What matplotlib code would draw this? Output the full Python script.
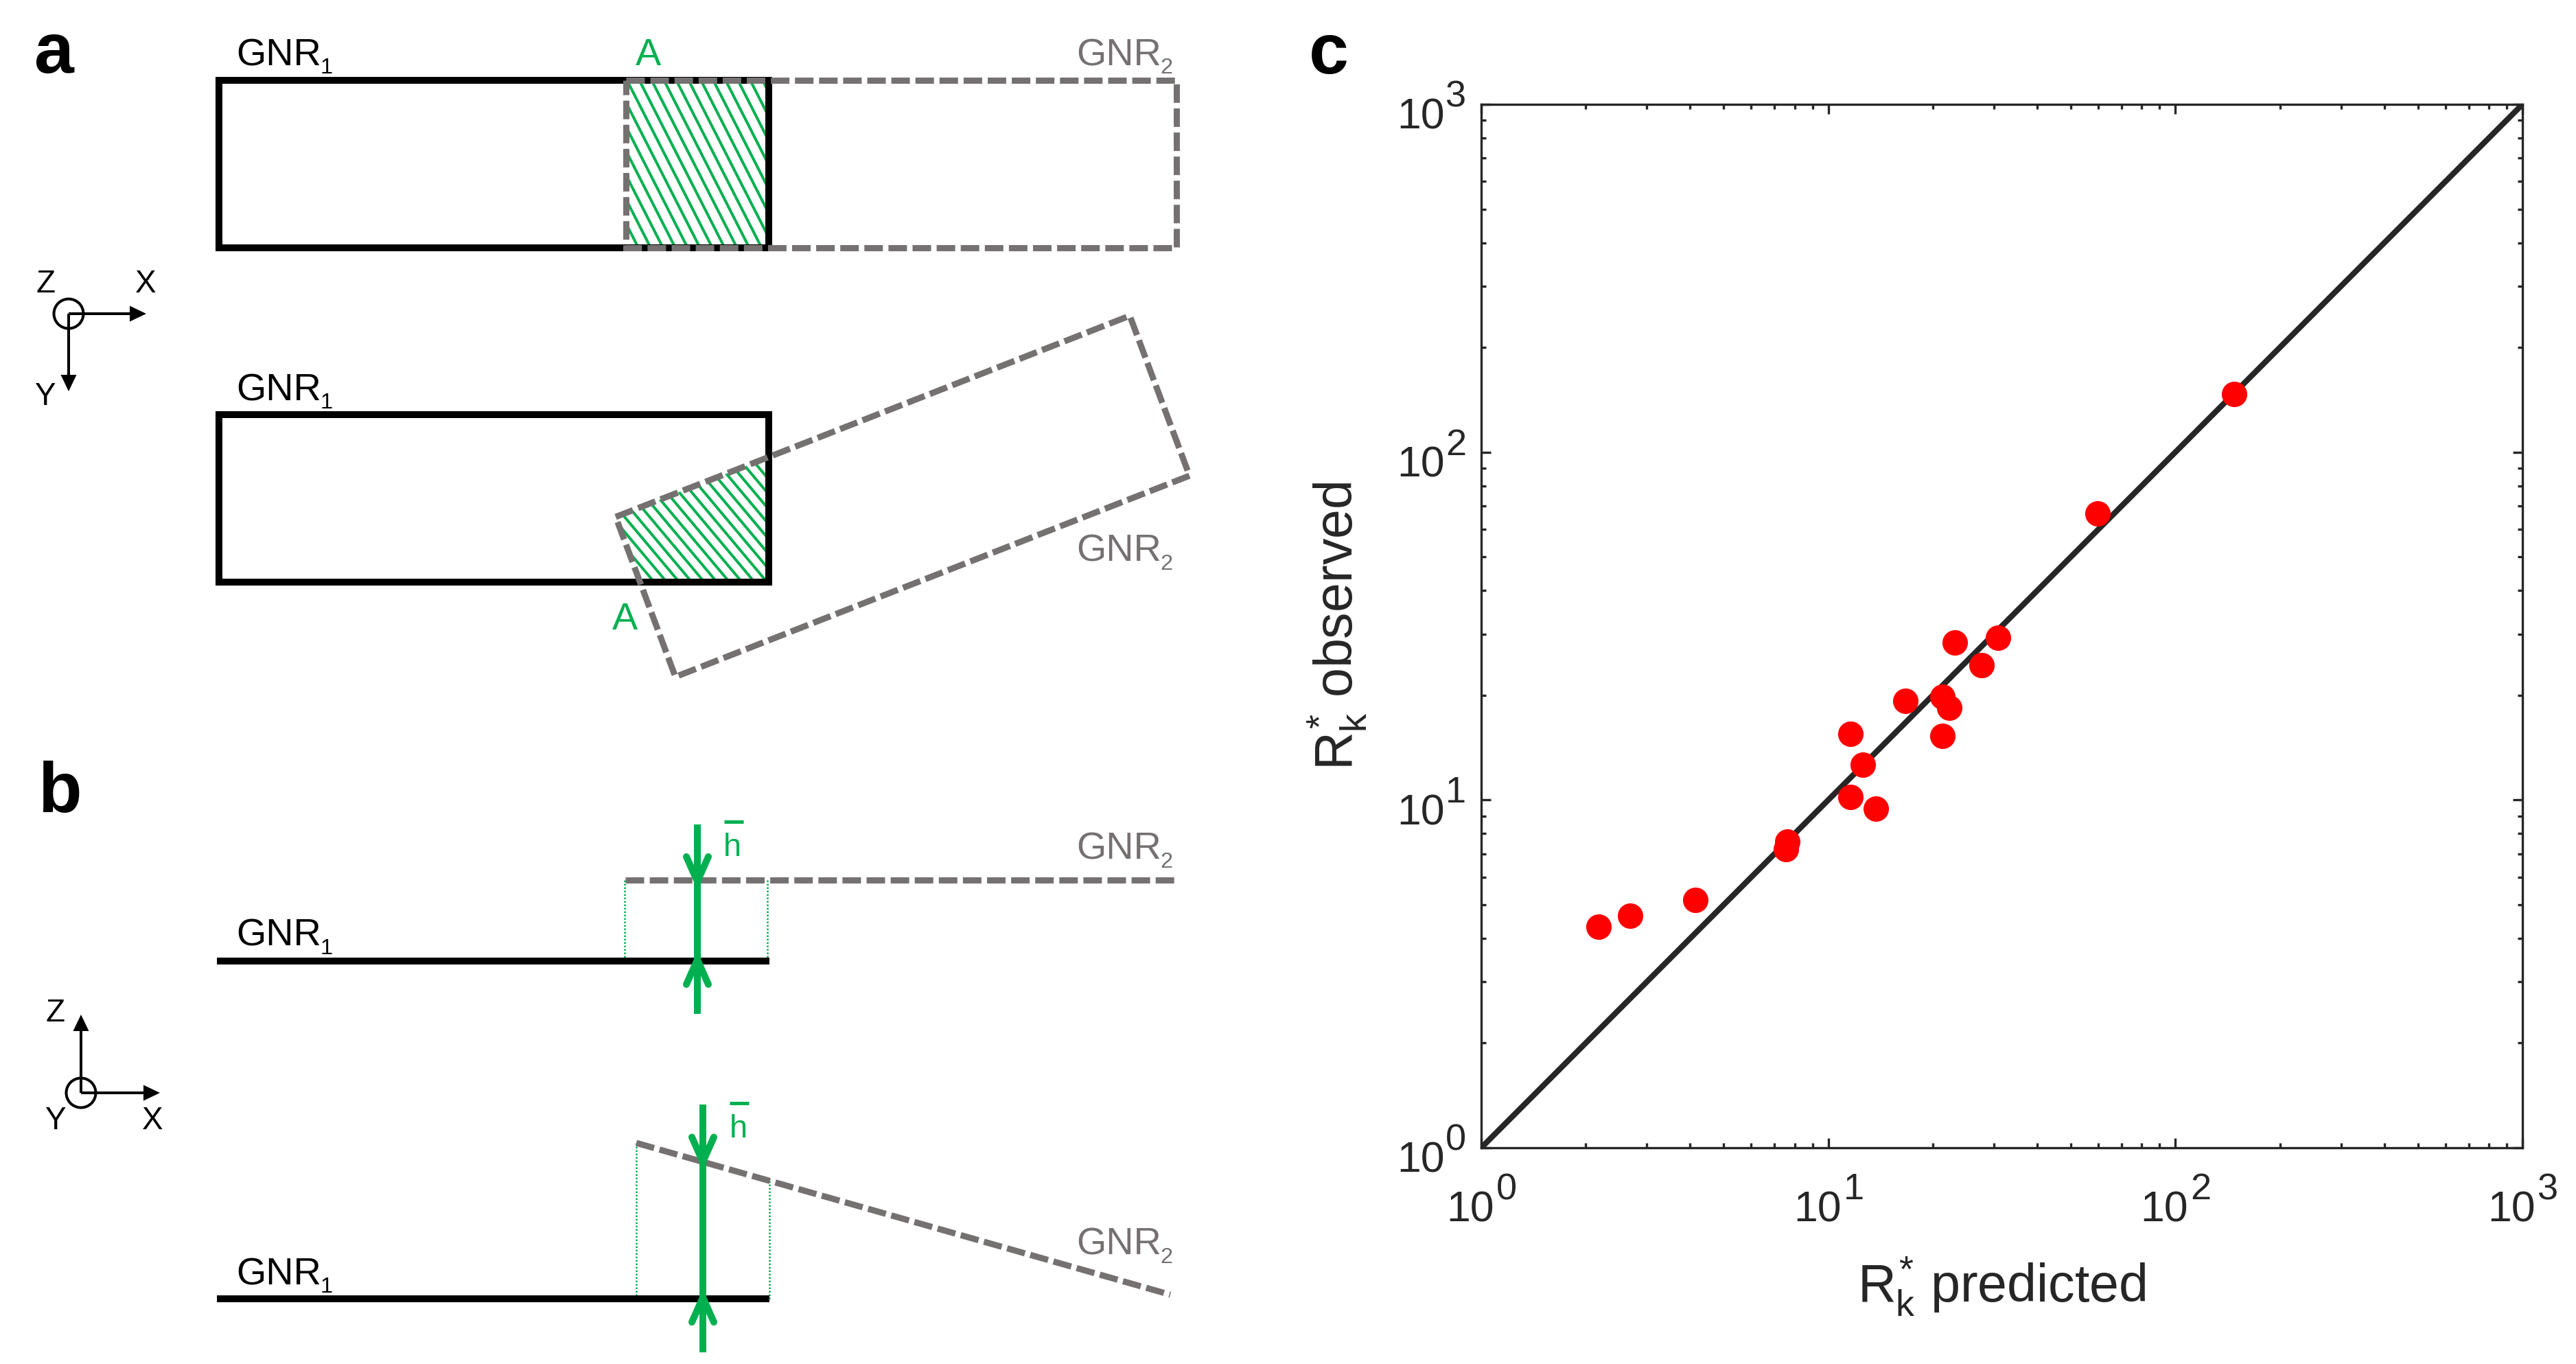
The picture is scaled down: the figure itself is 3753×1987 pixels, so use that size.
import matplotlib
matplotlib.use("Agg")
import matplotlib.pyplot as plt
import numpy as np
from matplotlib.patches import Polygon, Circle
from matplotlib.collections import LineCollection

plt.rcParams['font.family'] = ['Liberation Sans', 'DejaVu Sans']
plt.rcParams['mathtext.fontset'] = 'custom'
plt.rcParams['mathtext.rm'] = 'Liberation Sans'
plt.rcParams['mathtext.it'] = 'Liberation Sans'
plt.rcParams['mathtext.bf'] = 'Liberation Sans:bold'

# ---------------- data (panel c) ----------------
rk_predicted = [2.18, 2.69, 4.14, 7.55, 7.62, 11.6, 11.6, 12.6, 13.7, 16.7,
                21.3, 22.3, 21.3, 23.1, 27.7, 30.8, 59.7, 148.0]
rk_observed = [4.32, 4.65, 5.16, 7.22, 7.58, 15.5, 10.2, 12.6, 9.44, 19.3,
               19.8, 18.4, 15.3, 28.4, 24.4, 29.3, 66.6, 147.0]
identity_line = [1, 1000]
tick_exponents = [0, 1, 2, 3]
xlabel_text = r'$R_{k}^{*}$ predicted'
ylabel_text = r'$R_{k}^{*}$ observed'

# ---------------- schematic geometry (pixels) ----------------
gnr1_top = (319, 117, 1120, 361)
gnr2_top = (912, 117, 1714, 361)
gnr1_low = (319, 604, 1120, 848)
gnr2_low = [(897, 753), (1646, 460), (1733, 693), (984, 986)]

W, H, DPI = 3753, 1987, 300
PX = 72.0 / DPI
GREEN = '#00B050'
GRAY = '#767171'
DARK = '#262626'

fig = plt.figure(figsize=(W / DPI, H / DPI), dpi=DPI)
fig.patch.set_facecolor('white')
bg = fig.add_axes([0, 0, 1, 1])
bg.set_xlim(0, W)
bg.set_ylim(H, 0)
bg.axis('off')

LW_BLACK = 10 * PX
LW_DASH = 9 * PX
DASH = (0, (3.0, 0.9))


def rect_pts(r):
    x0, y0, x1, y1 = r
    return [(x0, y0), (x1, y0), (x1, y1), (x0, y1), (x0, y0)]


def draw_solid(pts, z=3):
    xs, ys = zip(*pts)
    bg.plot(xs, ys, color='black', lw=LW_BLACK, solid_joinstyle='miter',
            solid_capstyle='projecting', zorder=z)


def draw_dashed(pts, z=4):
    xs, ys = zip(*pts)
    bg.plot(xs, ys, color=GRAY, lw=LW_DASH, linestyle=DASH,
            dash_capstyle='butt', dash_joinstyle='miter', zorder=z)


def hatch(poly, angle_deg, spacing, lw=4 * PX):
    patch = Polygon(poly, closed=True, fc='none', ec='none')
    bg.add_patch(patch)
    a = np.deg2rad(angle_deg)
    d = np.array([np.cos(a), np.sin(a)])
    n = np.array([-np.sin(a), np.cos(a)])
    P = np.array(poly, dtype=float)
    proj = P @ n
    segs = []
    c = proj.min() + spacing * 0.5
    while c < proj.max():
        p0 = c * n - 3000 * d
        p1 = c * n + 3000 * d
        segs.append([p0, p1])
        c += spacing
    lc = LineCollection(segs, colors=GREEN, linewidths=lw, zorder=2)
    bg.add_collection(lc)
    lc.set_clip_path(patch)


def gnr_label(x, y, sub, color):
    t = bg.text(x, y, 'GNR', fontsize=13.4, color=color, ha='left',
                va='baseline', zorder=6)
    bg.annotate(sub, xy=(1, 0), xycoords=t, xytext=(-0.3, 0),
                textcoords='offset points', fontsize=7.8, color=color,
                ha='left', va='baseline', zorder=6)


def chevron(x, tip, direction):
    # direction = +1 arrow pointing down, -1 pointing up
    xs = [x - 16, x, x + 16]
    ys = [tip - 36 * direction, tip, tip - 36 * direction]
    bg.plot(xs, ys, color=GREEN, lw=10 * PX, solid_capstyle='round',
            solid_joinstyle='miter', zorder=7)


def tri_head(tip, direction):
    tx, ty = tip
    dx, dy = direction
    L, hw = 24, 11.5
    bx, by = tx - dx * L, ty - dy * L
    px, py = -dy, dx
    bg.fill([tx, bx + px * hw, bx - px * hw], [ty, by + py * hw, by - py * hw],
            color='black', lw=0, zorder=5)


def axes_icon(center, tips, labels):
    cx, cy = center
    bg.add_patch(Circle((cx, cy), 21.5, fc='none', ec='black', lw=4 * PX, zorder=5))
    for (tx, ty) in tips:
        vx, vy = tx - cx, ty - cy
        L = np.hypot(vx, vy)
        ux, uy = vx / L, vy / L
        bg.plot([cx, tx - ux * 20], [cy, ty - uy * 20], color='black',
                lw=4 * PX, solid_capstyle='butt', zorder=5)
        tri_head((tx, ty), (ux, uy))
    for (lx, ly, s) in labels:
        bg.text(lx, ly, s, fontsize=11, ha='center', va='baseline', zorder=6)


# ---------------- panel a ----------------
bg.text(50, 106, 'a', fontsize=25, fontweight='bold', va='baseline')
# top overlap
hatch([(gnr2_top[0], gnr1_top[1]), (gnr1_top[2], gnr1_top[1]),
       (gnr1_top[2], gnr1_top[3]), (gnr2_top[0], gnr1_top[3])], 63, 16)
draw_solid(rect_pts(gnr1_top))
draw_dashed(rect_pts(gnr2_top))
gnr_label(344, 95, '1', 'black')
gnr_label(1568, 95, '2', GRAY)
bg.text(944, 95, 'A', fontsize=13.4, color=GREEN, ha='center', va='baseline')

# rotated overlap
P0 = np.array(gnr2_low[0], float)
P1 = np.array(gnr2_low[1], float)
P3 = np.array(gnr2_low[3], float)
xr = gnr1_low[2]
yb = gnr1_low[3]
t = (xr - P0[0]) / (P1[0] - P0[0])
top_at_xr = P0 + t * (P1 - P0)
s = (yb - P0[1]) / (P3[1] - P0[1])
left_at_yb = P0 + s * (P3 - P0)
hatch([tuple(P0), tuple(top_at_xr), (xr, yb), tuple(left_at_yb)], 50, 14)
draw_solid(rect_pts(gnr1_low))
draw_dashed(gnr2_low + [gnr2_low[0]])
gnr_label(344, 583, '1', 'black')
gnr_label(1568, 818, '2', GRAY)
bg.text(910, 917, 'A', fontsize=13.4, color=GREEN, ha='center', va='baseline')

axes_icon((100, 457), [(213, 457), (100, 570)],
          [(66, 426, 'Z'), (212, 426, 'X'), (65, 590, 'Y')])

# ---------------- panel b ----------------
bg.text(55, 1183, 'b', fontsize=25, fontweight='bold', va='baseline')

# top configuration
bg.plot([316, 1121], [1400, 1400], color='black', lw=LW_BLACK, solid_capstyle='butt', zorder=3)
bg.plot([911, 1714], [1282, 1282], color=GRAY, lw=LW_DASH, linestyle=DASH,
        dash_capstyle='butt', zorder=4)
for xv in (910, 1118):
    bg.plot([xv, xv], [1282, 1400], color=GREEN, lw=0.6, linestyle=(0, (1, 1)), zorder=2)
bg.plot([1016, 1016], [1201, 1477], color=GREEN, lw=10 * PX, solid_capstyle='butt', zorder=7)
chevron(1016, 1284, 1)
chevron(1016, 1398, -1)
bg.text(1054, 1247, 'h', fontsize=11.3, color=GREEN, va='baseline')
bg.plot([1055, 1083], [1197, 1197], color=GREEN, lw=5 * PX, solid_capstyle='butt')
gnr_label(344, 1378, '1', 'black')
gnr_label(1568, 1252, '2', GRAY)

# tilted configuration
bg.plot([316, 1121], [1892, 1892], color='black', lw=LW_BLACK, solid_capstyle='butt', zorder=3)
b_dash = [(927, 1665), (1705, 1886)]
bg.plot([b_dash[0][0], b_dash[1][0]], [b_dash[0][1], b_dash[1][1]], color=GRAY,
        lw=LW_DASH, linestyle=DASH, dash_capstyle='butt', zorder=4)
slope = (b_dash[1][1] - b_dash[0][1]) / (b_dash[1][0] - b_dash[0][0])
for xv in (927, 1121):
    ytop = b_dash[0][1] + (xv - b_dash[0][0]) * slope
    bg.plot([xv, xv], [ytop, 1892], color=GREEN, lw=0.6, linestyle=(0, (1, 1)), zorder=2)
xa = 1024
ya = b_dash[0][1] + (xa - b_dash[0][0]) * slope
bg.plot([xa, xa], [1609, 1970], color=GREEN, lw=10 * PX, solid_capstyle='butt', zorder=7)
chevron(xa, ya, 1)
chevron(xa, 1890, -1)
bg.text(1063, 1657, 'h', fontsize=11.3, color=GREEN, va='baseline')
bg.plot([1063, 1091], [1607, 1607], color=GREEN, lw=5 * PX, solid_capstyle='butt')
gnr_label(344, 1871, '1', 'black')
gnr_label(1568, 1828, '2', GRAY)

axes_icon((118, 1592), [(233, 1592), (118, 1478)],
          [(80, 1488, 'Z'), (222, 1645, 'X'), (80, 1645, 'Y')])

# ---------------- panel c ----------------
bg.text(1907, 107, 'c', fontsize=25, fontweight='bold', va='baseline')

ax_l, ax_r, ax_t, ax_b = 2158, 3675, 152, 1672
ax = fig.add_axes([ax_l / W, (H - ax_b) / H, (ax_r - ax_l) / W, (ax_b - ax_t) / H])
ax.set_xscale('log')
ax.set_yscale('log')
ax.set_xlim(1, 1000)
ax.set_ylim(1, 1000)
ax.plot(identity_line, identity_line, color=DARK, lw=2.0, zorder=2)
ax.plot(rk_predicted, rk_observed, 'o', color='#FF0000', ms=8.9, mec='none', zorder=3)

for sp in ax.spines.values():
    sp.set_color(DARK)
    sp.set_linewidth(0.8)
ax.tick_params(which='both', direction='in', top=True, right=True, colors=DARK,
               width=0.8, labelbottom=False, labelleft=False)
ax.tick_params(which='major', length=3.4)
ax.tick_params(which='minor', length=1.7)

for e in tick_exponents:
    v = 10.0 ** e
    ax.annotate('10', xy=(v, 0), xycoords=('data', 'axes fraction'),
                xytext=(19 * PX, -108 * PX), textcoords='offset points',
                ha='right', va='baseline', fontsize=15, color=DARK, annotation_clip=False)
    ax.annotate(str(e), xy=(v, 0), xycoords=('data', 'axes fraction'),
                xytext=(22 * PX, -75 * PX), textcoords='offset points',
                ha='left', va='baseline', fontsize=13, color=DARK, annotation_clip=False)
    ax.annotate('10', xy=(0, v), xycoords=('axes fraction', 'data'),
                xytext=(-53 * PX, -36 * PX), textcoords='offset points',
                ha='right', va='baseline', fontsize=15, color=DARK, annotation_clip=False)
    ax.annotate(str(e), xy=(0, v), xycoords=('axes fraction', 'data'),
                xytext=(-52 * PX, -4 * PX), textcoords='offset points',
                ha='left', va='baseline', fontsize=13, color=DARK, annotation_clip=False)

ax.text(0.5, -(1897 - ax_b) / (ax_b - ax_t), xlabel_text, transform=ax.transAxes,
        ha='center', va='baseline', fontsize=18.5, color=DARK)
ax.text(-(ax_l - 1971) / (ax_r - ax_l), 0.5, ylabel_text, transform=ax.transAxes,
        ha='center', va='baseline', rotation=90, rotation_mode='anchor',
        fontsize=18.5, color=DARK)

fig.savefig('out.png', dpi=DPI, facecolor='white')
